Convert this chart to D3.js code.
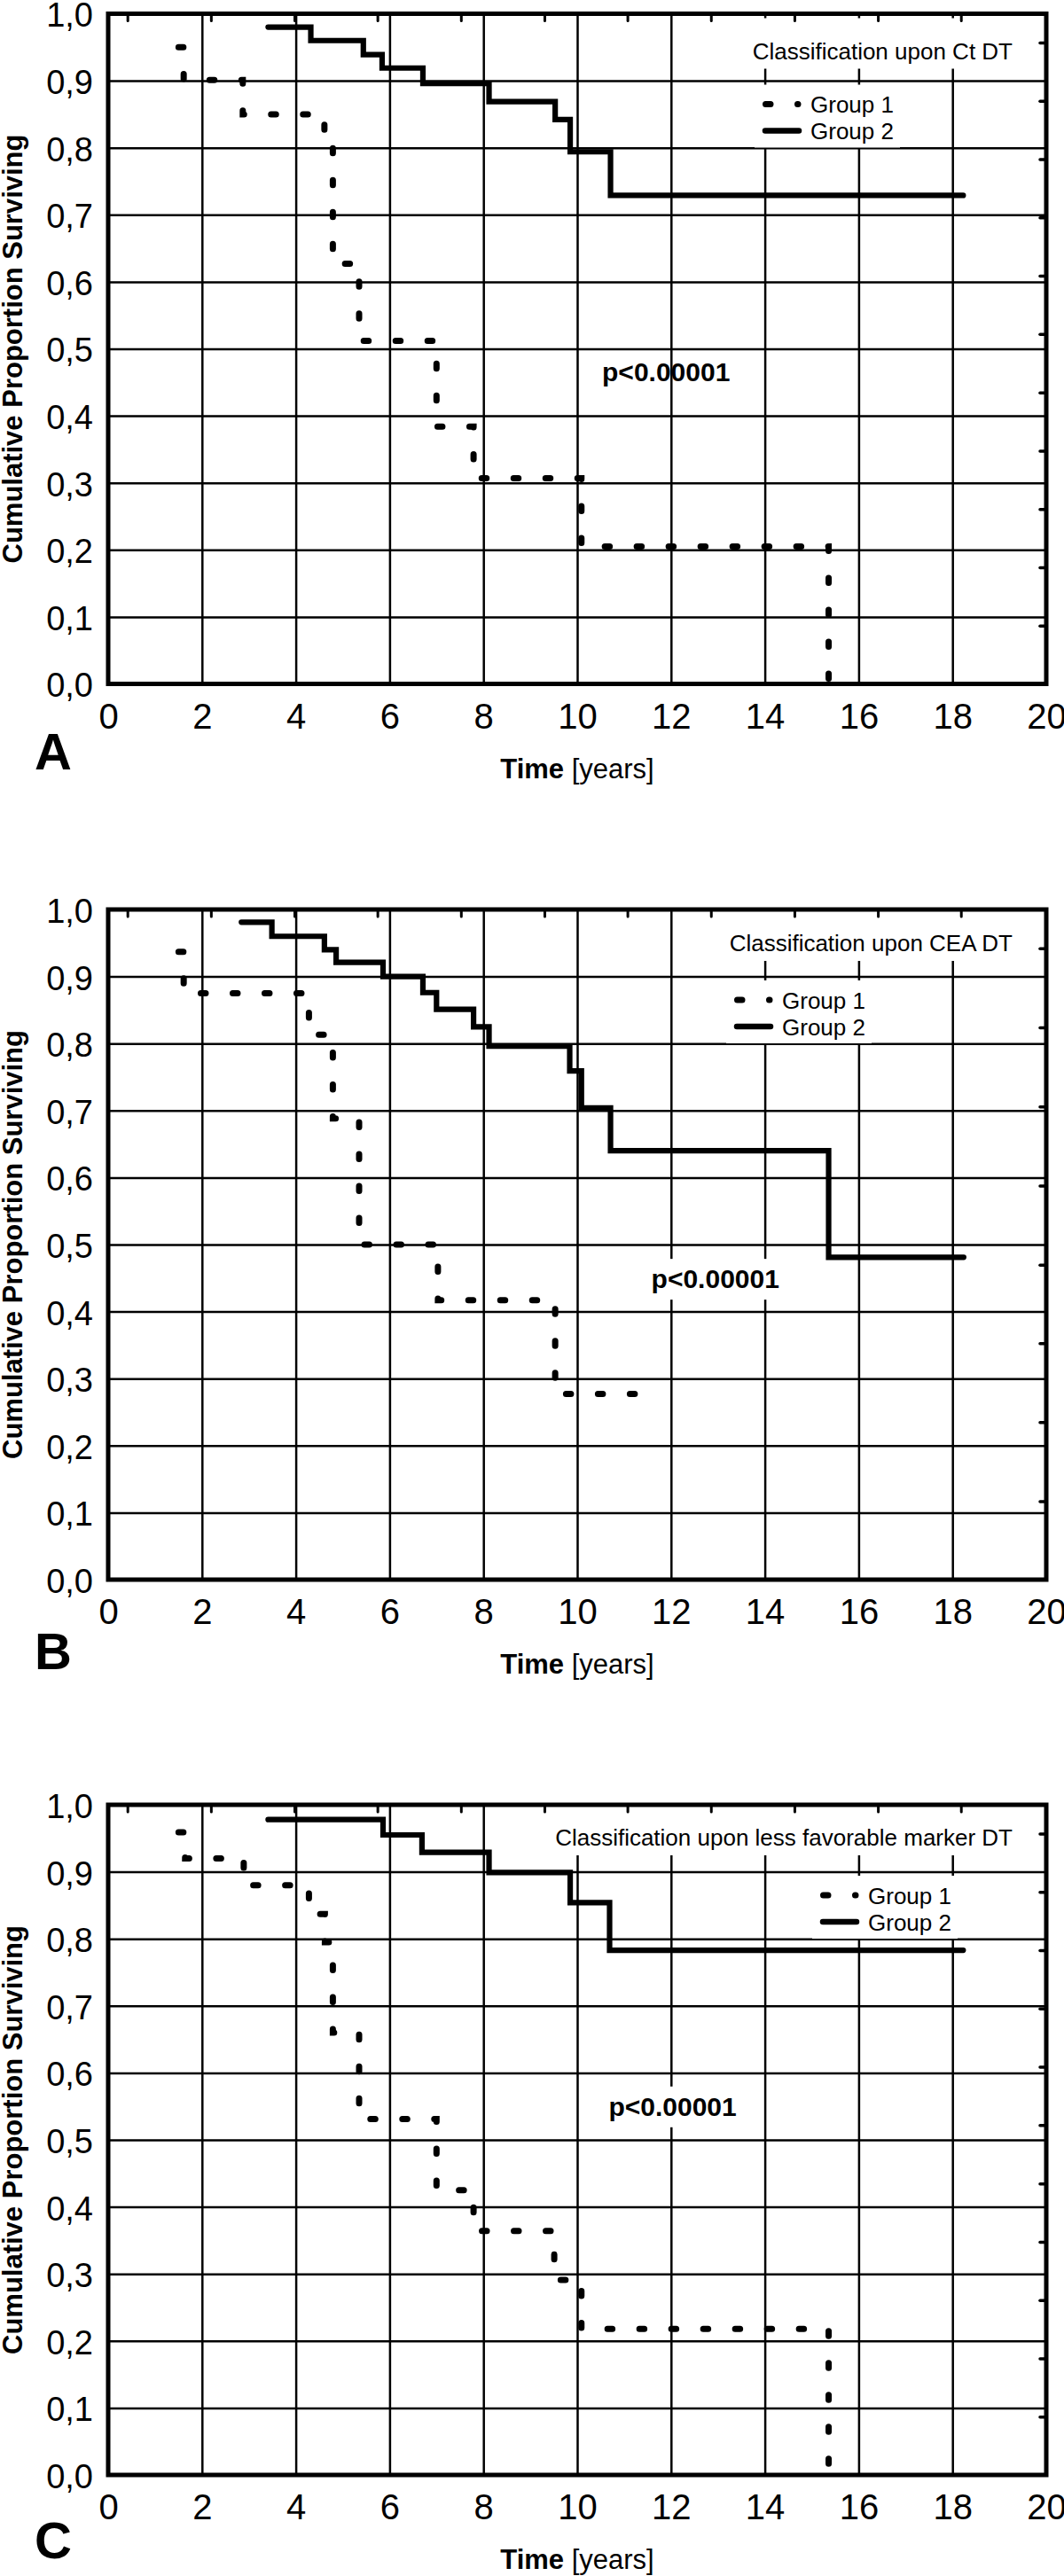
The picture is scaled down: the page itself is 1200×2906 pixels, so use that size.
<!DOCTYPE html>
<html>
<head>
<meta charset="utf-8">
<script src="https://cdn.jsdelivr.net/npm/d3@7"></script>
<style>
  body { margin: 0; background: #fff; }
  svg { display: block; }
</style>
</head>
<body>
<div id="chart"></div>
<script>
// ---- data ----
var xTicks = [0, 2, 4, 6, 8, 10, 12, 14, 16, 18, 20];
var yTicks = [0, 0.1, 0.2, 0.3, 0.4, 0.5, 0.6, 0.7, 0.8, 0.9, 1.0];
// small marks on the top and right borders (secondary axes of the original plot)
var topTickVals = [0.41, 2.19, 3.97, 5.74, 7.52, 9.30, 11.07, 12.85, 14.63, 16.41, 18.18];
var rightTicksAC = [0.087, 0.174, 0.261, 0.348, 0.435, 0.522, 0.609, 0.696, 0.783, 0.870, 0.957];
var rightTicksB = [0.117, 0.235, 0.353, 0.470, 0.588, 0.706, 0.824, 0.942];

var panelLetters = ["A", "B", "C"];
var panelTitles = ["Classification upon Ct DT", "Classification upon CEA DT",
                   "Classification upon less favorable marker DT"];
var legendLabels = ["Group 1", "Group 2"];
var pLabel = "p<0.00001";

// step curves: [time, proportion from that time on]
var a_g1 = [[1.50, 0.950], [1.61, 0.901], [2.87, 0.850], [4.61, 0.810], [4.79, 0.627], [5.35, 0.512],
            [7.00, 0.384], [7.79, 0.307], [10.09, 0.205], [15.36, 0.0]];
var a_g2 = [[3.41, 0.980], [4.32, 0.960], [5.44, 0.939], [5.84, 0.919], [6.71, 0.896], [8.12, 0.869],
            [9.53, 0.842], [9.85, 0.794], [10.71, 0.729], [18.23, 0.729]];
var b_g1 = [[1.50, 0.937], [1.61, 0.875], [4.28, 0.813], [4.79, 0.688], [5.35, 0.500], [7.03, 0.417],
            [9.53, 0.277], [11.35, 0.277]];
var b_g2 = [[2.84, 0.981], [3.49, 0.960], [4.61, 0.940], [4.86, 0.921], [5.86, 0.900], [6.71, 0.876],
            [7.00, 0.851], [7.79, 0.825], [8.12, 0.796], [9.84, 0.759], [10.09, 0.704], [10.71, 0.640],
            [15.36, 0.481], [18.24, 0.481]];
var c_g1 = [[1.50, 0.959], [1.64, 0.920], [2.89, 0.880], [4.28, 0.837], [4.62, 0.795], [4.79, 0.660],
            [5.35, 0.531], [7.00, 0.425], [7.79, 0.364], [9.51, 0.291], [10.09, 0.218], [15.36, 0.0]];
var c_g2 = [[3.41, 0.978], [5.86, 0.955], [6.69, 0.929], [8.12, 0.899], [9.85, 0.854], [10.69, 0.783],
            [18.23, 0.783]];

// ---- layout ----
var FONT = '"Liberation Sans", Arial, Helvetica, sans-serif';
var L = 122, W = 1058, H = 756;
var panelTop = [15.5, 1026, 2036];
var titleBase = [51, 47, 46];          // below plot top
var legendLeft = [860, 828, 925];
var letterBase = [868, 1883, 2886];
var pPos = [[10.53, 0.452], [11.58, 0.435], [10.67, 0.536]];
var pBox = [false, true, true];

var panels = [
  { g1: a_g1, g2: a_g2, right: rightTicksAC },
  { g1: b_g1, g2: b_g2, right: rightTicksB },
  { g1: c_g1, g2: c_g2, right: rightTicksAC }
];

var svg = d3.select("#chart").append("svg")
    .attr("width", 1200)
    .attr("height", 2906)
    .attr("font-family", FONT);

var x = d3.scaleLinear().domain([0, 20]).range([L, L + W]);
var fmtY = function (d) { return d3.format(".1f")(d).replace(".", ","); };

var DOTS = "5.5,30.5";

panels.forEach(function (p, i) {
  var top = panelTop[i], bottom = top + H;
  var y = d3.scaleLinear().domain([0, 1]).range([bottom, top]);
  var g = svg.append("g");

  // vertical grid + x labels
  var gx = g.append("g")
      .attr("transform", "translate(0," + bottom + ")")
      .call(d3.axisBottom(x).tickValues(xTicks).tickSize(-H).tickPadding(22).tickFormat(d3.format("d")));
  gx.attr("font-size", 40).attr("font-family", FONT);
  gx.select(".domain").remove();
  gx.selectAll("line").attr("stroke-width", 2.5);

  // horizontal grid + y labels
  var gy = g.append("g")
      .attr("transform", "translate(" + L + ",0)")
      .call(d3.axisLeft(y).tickValues(yTicks).tickSize(-W).tickPadding(17).tickFormat(fmtY));
  gy.attr("font-size", 38).attr("font-family", FONT);
  gy.select(".domain").remove();
  gy.selectAll("line").attr("stroke-width", 2.5);
  gy.selectAll("text").attr("dy", "0.38em");

  // title with white box
  var tb = top + titleBase[i];
  var boxT = g.append("rect").attr("fill", "#fff");
  var title = g.append("text")
      .attr("x", 1142).attr("y", tb)
      .attr("text-anchor", "end")
      .attr("font-size", 26)
      .text(panelTitles[i]);
  var bb = title.node().getBBox();
  boxT.attr("x", bb.x - 3).attr("y", tb - 46).attr("width", bb.width + 5).attr("height", 57);

  // legend
  var lx = legendLeft[i];
  g.append("rect").attr("fill", "#fff")
      .attr("x", lx - 9).attr("y", top + 80)
      .attr("width", 164).attr("height", 71);
  var rows = [top + 102, top + 132];
  g.append("line")
      .attr("x1", lx + 3.5).attr("x2", lx + 40)
      .attr("y1", rows[0]).attr("y2", rows[0])
      .attr("stroke", "#000").attr("stroke-width", 7)
      .attr("stroke-linecap", "round").attr("stroke-dasharray", DOTS);
  g.append("line")
      .attr("x1", lx + 3).attr("x2", lx + 41)
      .attr("y1", rows[1]).attr("y2", rows[1])
      .attr("stroke", "#000").attr("stroke-width", 6.5)
      .attr("stroke-linecap", "round");
  legendLabels.forEach(function (lab, k) {
    g.append("text")
        .attr("x", lx + 54).attr("y", rows[k] + 9.5)
        .attr("font-size", 26)
        .text(lab);
  });

  // p value
  var px = x(pPos[i][0]), py = y(pPos[i][1]);
  var boxP = g.append("rect").attr("fill", "#fff");
  var pt = g.append("text")
      .attr("x", px).attr("y", py)
      .attr("font-size", 30).attr("font-weight", "bold")
      .text(pLabel);
  if (pBox[i]) {
    var pb = pt.node().getBBox();
    boxP.attr("x", pb.x - 4).attr("y", py - 33).attr("width", pb.width + 8).attr("height", 46);
  }

  // survival curves
  var line = d3.line()
      .x(function (d) { return x(d[0]); })
      .y(function (d) { return y(d[1]); })
      .curve(d3.curveStepAfter);

  g.append("path")
      .datum(p.g2)
      .attr("d", line)
      .attr("fill", "none").attr("stroke", "#000")
      .attr("stroke-width", 6.2)
      .attr("stroke-linecap", "round").attr("stroke-linejoin", "miter");

  g.append("path")
      .datum(p.g1)
      .attr("d", line)
      .attr("fill", "none").attr("stroke", "#000")
      .attr("stroke-width", 7)
      .attr("stroke-linecap", "round")
      .attr("stroke-dasharray", DOTS);

  // border marks
  var gt = g.append("g")
      .attr("transform", "translate(0," + top + ")")
      .call(d3.axisTop(x).tickValues(topTickVals).tickSize(-8).tickFormat(""));
  gt.select(".domain").remove();
  gt.selectAll("line").attr("stroke-width", 3).attr("stroke-linecap", "round");

  var gr = g.append("g")
      .attr("transform", "translate(" + (L + W) + ",0)")
      .call(d3.axisRight(y).tickValues(p.right).tickSize(-7).tickFormat(""));
  gr.select(".domain").remove();
  gr.selectAll("line").attr("stroke-width", 3.5).attr("stroke-linecap", "round");

  // frame
  g.append("rect")
      .attr("x", L).attr("y", top).attr("width", W).attr("height", H)
      .attr("fill", "none").attr("stroke", "#000").attr("stroke-width", 5);

  // axis titles
  g.append("text")
      .attr("transform", "translate(25," + (top + H / 2) + ") rotate(-90)")
      .attr("text-anchor", "middle")
      .attr("font-size", 31).attr("font-weight", "bold")
      .text("Cumulative Proportion Surviving");

  var xt = g.append("text")
      .attr("x", L + W / 2).attr("y", bottom + 106)
      .attr("text-anchor", "middle")
      .attr("font-size", 31);
  xt.append("tspan").attr("font-weight", "bold").text("Time");
  xt.append("tspan").text(" [years]");

  // panel letter
  g.append("text")
      .attr("x", 39).attr("y", letterBase[i])
      .attr("font-size", 58).attr("font-weight", "bold")
      .text(panelLetters[i]);
});
</script>
</body>
</html>
